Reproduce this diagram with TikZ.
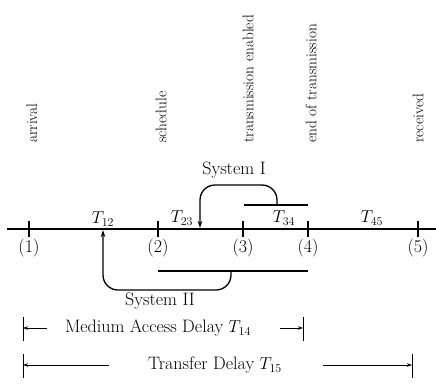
\documentclass[tikz,border=0pt]{standalone}
\usepackage{fontspec}
\usetikzlibrary{arrows.meta}
\begin{document}
\begin{tikzpicture}[x=1pt,y=-1pt,
  mainline/.style={line width=1.5pt},
  sysline/.style={line width=1.3pt, rounded corners=15pt},
  delayline/.style={line width=0.8pt},
  tip/.style={-{Stealth[length=7pt,width=4.5pt]}},
  vlabel/.style={rotate=90, anchor=west, inner sep=0pt, font=\fontsize{15.3}{18}\selectfont},
  lbl/.style={inner sep=0pt, font=\fontsize{18}{21}\selectfont},
  tick/.style={line width=1.2pt}]
\useasboundingbox (0,0) rectangle (436,386);
% timeline
\coordinate (L) at (7,229);
\coordinate (R) at (436,229);
\draw[mainline] (L) -- (R);
\foreach \n/\x in {1/29,2/158,3/243,4/308,5/418}{
  \coordinate (p\n) at (\x,229);
  \draw[tick] (\x,221) -- (\x,237);
  \node[lbl] (n\n) at (\x,248) {(\n)};
}
% vertical labels
\node[vlabel] (arr) at (32,143) {arrival};
\node[vlabel] (sch) at (161,143) {schedule};
\node[vlabel] (ten) at (248,143) {transmission enabled};
\node[vlabel] (eot) at (311,143) {end of transmission};
\node[vlabel] (rec) at (418,143) {received};
% T labels
\node[lbl] (t12) at (103,219) {$T_{12}$};
\node[lbl] (t23) at (182,218) {$T_{23}$};
\node[lbl] (t34) at (284,218) {$T_{34}$};
\node[lbl] (t45) at (372,218) {$T_{45}$};
% System I
\coordinate (b1l) at (244,205);
\coordinate (b1r) at (308,205);
\draw[sysline, sharp corners] (b1l) -- (b1r);
\coordinate (s1s) at (277,205);
\coordinate (s1e) at (200,228);
\draw[sysline, tip] (s1s) -- (277,185) -- (200,185) -- (s1e);
\node[lbl] (sys1) at (234,170) {System I};
% System II
\coordinate (b2l) at (158,271);
\coordinate (b2r) at (308,271);
\draw[sysline, sharp corners] (b2l) -- (b2r);
\coordinate (s2s) at (231,271);
\coordinate (s2e) at (103,230);
\draw[sysline, tip] (s2s) -- (231,290) -- (103,290) -- (s2e);
\node[lbl] (sys2) at (160,301) {System II};
% Medium access delay
\coordinate (m1t) at (23,317); \coordinate (m1b) at (23,341);
\coordinate (m2t) at (303,317); \coordinate (m2b) at (303,341);
\draw[delayline] (m1t) -- (m1b);
\draw[delayline] (m2t) -- (m2b);
\coordinate (ma) at (23,328); \coordinate (mb) at (303,328);
\node[lbl] (mad) at (158,328) {Medium Access Delay $T_{14}$};
\draw[delayline, -{Stealth[length=5pt,width=3.5pt]}] (47,328) -- (ma);
\draw[delayline, -{Stealth[length=5pt,width=3.5pt]}] (280,328) -- (mb);
% Transfer delay
\coordinate (t1t) at (23,354); \coordinate (t1b) at (23,378);
\coordinate (t2t) at (412,354); \coordinate (t2b) at (412,378);
\draw[delayline] (t1t) -- (t1b);
\draw[delayline] (t2t) -- (t2b);
\coordinate (ta) at (23,365); \coordinate (tb) at (412,365);
\node[lbl] (td) at (215,365) {Transfer Delay $T_{15}$};
\draw[delayline, -{Stealth[length=5pt,width=3.5pt]}] (109,365) -- (ta);
\draw[delayline, -{Stealth[length=5pt,width=3.5pt]}] (323,365) -- (tb);
\end{tikzpicture}
\end{document}
